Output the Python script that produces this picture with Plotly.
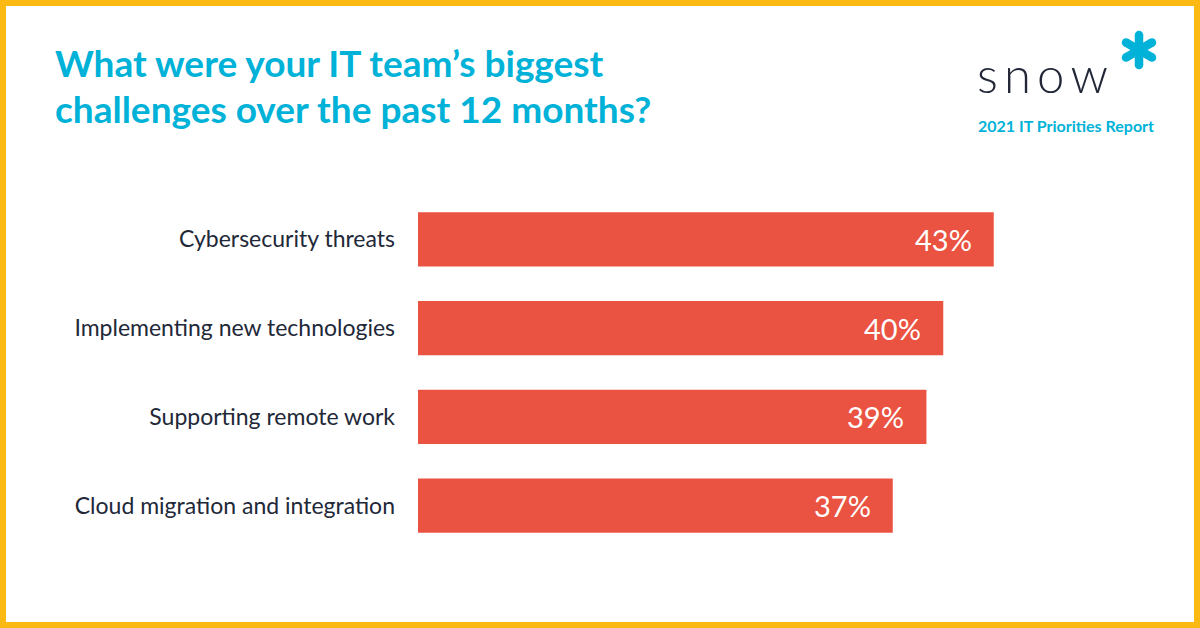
import plotly.graph_objects as go
import math

categories = ["Cybersecurity threats", "Implementing new technologies",
              "Supporting remote work", "Cloud migration and integration"]
values = [43, 40, 39, 37]
value_labels = ["43%", "40%", "39%", "37%"]

title_lines = ["What were your IT team’s biggest", "challenges over the past 12 months?"]
brand = "snow"
subtitle = "2021 IT Priorities Report"

W, H = 1200, 628
L, R, T, B = 418, 50, 195, 78
PW, PH = W - L - R, H - T - B

BAR = "#EA5241"
CYAN = "#00B2D8"
DARK = "#222838"
ORANGE = "#FDB913"

def px(x):
    return (x - L) / PW

def py(y):
    return (H - B - y) / PH

x0 = 8.79
scale = 16.83
xmax = x0 + PW / scale

fig = go.Figure(go.Bar(
    x=values, y=categories, orientation="h",
    marker=dict(color=BAR, line=dict(width=0)),
    width=0.61, hoverinfo="skip",
))

annotations = []
for c, v, t in zip(categories, values, value_labels):
    annotations.append(dict(x=v, y=c, xref="x", yref="y", text=t, showarrow=False,
                            xanchor="right", yanchor="middle", xshift=-20,
                            font=dict(family="Lato", size=29, color="white")))

annotations.append(dict(x=px(53), y=py(62), xref="paper", yref="paper", text=title_lines[0],
                        showarrow=False, xanchor="left", yanchor="middle",
                        font=dict(family="Lato", size=37, color=CYAN, weight=700)))
annotations.append(dict(x=px(53), y=py(108), xref="paper", yref="paper", text=title_lines[1],
                        showarrow=False, xanchor="left", yanchor="middle",
                        font=dict(family="Lato", size=37, color=CYAN, weight=700)))
annotations.append(dict(x=px(975), y=py(74), xref="paper", yref="paper",
                        text="\u2009".join(brand), showarrow=False, xanchor="left", yanchor="middle",
                        font=dict(family="Lato", size=49, color=DARK, weight=300)))
annotations.append(dict(x=px(1156), y=py(125), xref="paper", yref="paper", text=subtitle,
                        showarrow=False, xanchor="right", yanchor="middle",
                        font=dict(family="Lato", size=16, color=CYAN, weight=700)))

shapes = [dict(type="rect", xref="paper", yref="paper",
               x0=px(3), x1=px(W - 3), y0=py(3), y1=py(H - 3),
               line=dict(color=ORANGE, width=6), fillcolor="rgba(0,0,0,0)", layer="above")]
cx, cy, arm, lw = 1139, 50, 15, 8.5
for ang in (90, 30, -30):
    dx = arm * math.cos(math.radians(ang))
    dy = arm * math.sin(math.radians(ang))
    shapes.append(dict(type="line", xref="paper", yref="paper",
                       x0=px(cx - dx), x1=px(cx + dx), y0=py(cy + dy), y1=py(cy - dy),
                       line=dict(color=CYAN, width=lw)))
    for s in (1, -1):
        ex, ey = cx + s * dx, cy - s * dy
        r = lw / 2
        shapes.append(dict(type="circle", xref="paper", yref="paper",
                           x0=px(ex - r), x1=px(ex + r), y0=py(ey + r), y1=py(ey - r),
                           fillcolor=CYAN, line=dict(width=0)))

fig.update_layout(
    width=W, height=H,
    margin=dict(l=L, r=R, t=T, b=B, pad=0),
    paper_bgcolor="white", plot_bgcolor="white",
    showlegend=False,
    xaxis=dict(range=[x0, xmax], visible=False, fixedrange=True),
    yaxis=dict(autorange="reversed", showgrid=False, zeroline=False, showline=False,
               ticks="", ticklabelstandoff=22,
               tickfont=dict(family="Lato", size=23, color=DARK)),
    annotations=annotations,
    shapes=shapes,
)

fig.write_html("out.html")
